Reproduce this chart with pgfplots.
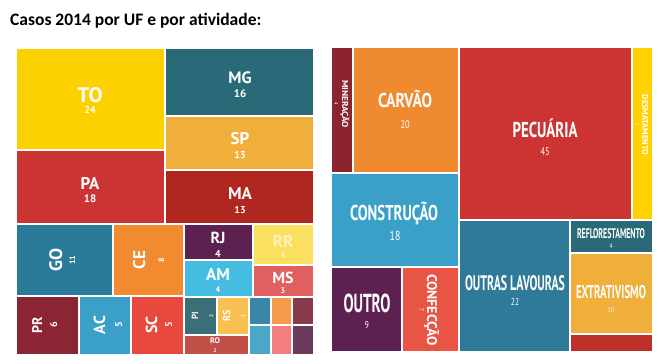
\documentclass[border=0pt]{standalone}
\usepackage{pgfplots}
\pgfplotsset{compat=1.18}
\usepackage{graphicx}
\usepackage{fontspec}
\setmainfont{PT Sans}
\newfontfamily\carlito{Carlito}
\definecolor{cTO}{HTML}{FDD000}
\definecolor{cMG}{HTML}{2A6A78}
\definecolor{cSP}{HTML}{F0AE3A}
\definecolor{cMA}{HTML}{B0271F}
\definecolor{cPA}{HTML}{CC3333}
\definecolor{cGO}{HTML}{2A7A9A}
\definecolor{cCE}{HTML}{F28A30}
\definecolor{cRJ}{HTML}{5C2150}
\definecolor{cAM}{HTML}{45BDE0}
\definecolor{cRR}{HTML}{FBE060}
\definecolor{cMS}{HTML}{E06060}
\definecolor{cPR}{HTML}{8B2433}
\definecolor{cAC}{HTML}{3AA0C8}
\definecolor{cSC}{HTML}{E8483E}
\definecolor{cPI}{HTML}{3A6F78}
\definecolor{cRS}{HTML}{F8C050}
\definecolor{cRO}{HTML}{C05048}
\definecolor{s1}{HTML}{3A86A8}
\definecolor{s2}{HTML}{4AA7C8}
\definecolor{s3}{HTML}{F59A4A}
\definecolor{s4}{HTML}{F47D7D}
\definecolor{s5}{HTML}{8A3B4A}
\definecolor{s6}{HTML}{6B3B5E}
\definecolor{cMIN}{HTML}{8B2430}
\definecolor{cCAR}{HTML}{F08A30}
\definecolor{cPEC}{HTML}{CC3333}
\definecolor{cDES}{HTML}{FFD200}
\definecolor{cCON}{HTML}{3AA0C8}
\definecolor{cOUT}{HTML}{5C2150}
\definecolor{cCNF}{HTML}{E85545}
\definecolor{cOL}{HTML}{2E7A98}
\definecolor{cREF}{HTML}{2A6A78}
\definecolor{cEXT}{HTML}{F0AE3A}
\definecolor{cBOT}{HTML}{C0302A}
\newcommand{\Rect}[5]{\addplot[fill=#5,draw=none,forget plot] coordinates {(#1,#3) (#2,#3) (#2,#4) (#1,#4)} -- cycle;}
\newcommand{\Lb}[4]{\node[anchor=base,text=white,inner sep=0pt,font=\bfseries\fontsize{#3}{#3}\selectfont] at (axis cs:#1,#2) {#4};}
\newcommand{\Lv}[5]{\node[anchor=base,rotate=#5,text=white,inner sep=0pt,font=\bfseries\fontsize{#3}{#3}\selectfont] at (axis cs:#1,#2) {#4};}
% condensed bold: x, y, size, text, width
\newcommand{\Cb}[5]{\node[anchor=base,text=white,inner sep=0pt] at (axis cs:#1,#2) {\resizebox{#5pt}{\height}{\bfseries\fontsize{#3}{#3}\selectfont #4}};}
\newcommand{\Cn}[4]{\node[anchor=base,text=white,inner sep=0pt] at (axis cs:#1,#2) {\scalebox{0.75}[1]{\fontsize{#3}{#3}\selectfont #4}};}
% rotated condensed: x, y, size, text, length
\newcommand{\Cv}[5]{\node[anchor=base,rotate=-90,text=white,inner sep=0pt] at (axis cs:#1,#2) {\resizebox{#5pt}{\height}{\bfseries\fontsize{#3}{#3}\selectfont #4}};}
\newcommand{\Cvn}[4]{\node[anchor=base,rotate=-90,text=white,inner sep=0pt] at (axis cs:#1,#2) {\scalebox{0.75}[1]{\fontsize{#3}{#3}\selectfont #4}};}
\begin{document}
\begin{tikzpicture}
\begin{axis}[width=664pt,height=364pt,scale only axis,xmin=0,xmax=664,ymin=0,ymax=364,y dir=reverse,hide axis,clip=false]
\Rect{0}{664}{0}{364}{white}
% left treemap
\Rect{17}{164}{49}{149}{cTO}
\Rect{166}{313}{49}{115}{cMG}
\Rect{166}{313}{117}{169}{cSP}
\Rect{166}{313}{171}{223}{cMA}
\Rect{17}{164}{151}{223}{cPA}
\Rect{17}{112}{225}{295}{cGO}
\Rect{114}{183}{225}{295}{cCE}
\Rect{185}{252}{225}{259}{cRJ}
\Rect{185}{252}{261}{296}{cAM}
\Rect{254}{313}{225}{264}{cRR}
\Rect{254}{313}{266}{296}{cMS}
\Rect{17}{78}{297}{354}{cPR}
\Rect{80}{130}{297}{354}{cAC}
\Rect{132}{183}{297}{354}{cSC}
\Rect{185}{216}{298}{334}{cPI}
\Rect{218}{248}{298}{334}{cRS}
\Rect{185}{248}{336}{354}{cRO}
\Rect{250}{270}{298}{324}{s1}
\Rect{250}{270}{326}{354}{s2}
\Rect{272}{291}{298}{324}{s3}
\Rect{272}{291}{326}{354}{s4}
\Rect{293}{313}{298}{324}{s5}
\Rect{293}{313}{326}{354}{s6}
% right treemap
\Rect{332}{352}{48}{172}{cMIN}
\Rect{354}{458}{48}{172}{cCAR}
\Rect{332}{458}{174}{266}{cCON}
\Rect{460}{631}{48}{219}{cPEC}
\Rect{633}{652}{48}{219}{cDES}
\Rect{332}{401}{268}{351}{cOUT}
\Rect{403}{458}{268}{351}{cCNF}
\Rect{460}{569}{221}{351}{cOL}
\Rect{571}{652}{221}{252}{cREF}
\Rect{571}{652}{254}{333}{cEXT}
\Rect{571}{652}{335}{351}{cBOT}
% title
\node[anchor=base west,inner sep=0pt,font=\carlito\bfseries\fontsize{17.5}{17.5}\selectfont] at (axis cs:10,25) {Casos 2014 por UF e por atividade:};
% left labels
\Lb{90}{102}{21}{TO} \Lb{90}{113.5}{10}{24}
\Lb{240}{83}{16.5}{MG} \Lb{240}{97}{11}{16}
\Lb{240}{144}{17}{SP} \Lb{240}{158}{10}{13}
\Lb{90}{189}{17}{PA} \Lb{90}{202}{11}{18}
\Lb{240}{199}{17}{MA} \Lb{240}{213}{10}{13}
\Lv{62}{260}{18}{GO}{90} \Lv{75}{260}{8}{11}{90}
\Lv{145}{260}{17}{CE}{90} \Lv{164}{260}{8}{8}{90}
\Lb{218}{243}{16}{RJ} \Lb{218}{257}{10}{4}
\node[anchor=base,text=white,opacity=0.6,inner sep=0pt,font=\bfseries\fontsize{17}{17}\selectfont] at (axis cs:283,247) {RR};
\node[anchor=base,text=white,opacity=0.6,inner sep=0pt,font=\bfseries\fontsize{9}{9}\selectfont] at (axis cs:283,258) {4};
\Lb{218}{280}{17}{AM} \Lb{218}{292}{8}{4}
\Lb{283}{283}{16}{MS} \Lb{283}{293}{8}{3}
\Lv{42}{325}{14}{PR}{90} \Lv{57}{325}{10}{6}{90}
\Lv{105}{325}{16}{AC}{90} \Lv{122}{325}{10}{5}{90}
\Lv{157}{325}{16}{SC}{90} \Lv{172}{325}{10}{5}{90}
\Lv{198}{316}{9}{PI}{90} \Lv{213}{316}{5}{2}{90}
\Lv{230}{316}{10}{RS}{90} \Lv{245}{316}{5}{1}{90}
\Lb{215}{343}{8}{RO} \Lb{215}{352}{5}{2}
% right labels
\Cv{342}{104}{8.5}{MINERAÇÃO}{48} \Cvn{334}{104}{6}{4}
\Cb{405}{107}{20}{CARVÃO}{54} \Cn{405}{128}{11}{20}
\Cb{545}{137}{21.5}{PECUÁRIA}{65} \Cn{545}{155}{11}{45}
\Cv{642}{125}{8.5}{DESMATAMENTO}{60} \Cvn{635}{125}{6}{5}
\Cb{394}{220}{21.5}{CONSTRUÇÃO}{88} \Cn{395}{240}{13}{18}
\Cb{367}{312}{26}{OUTRO}{47} \Cn{367}{328}{10}{9}
\Cv{427}{310}{14}{CONFECÇÃO}{72} \Cvn{419}{310}{7}{7}
\Cb{515}{290}{21}{OUTRAS LAVOURAS}{100} \Cn{515}{305}{10}{22}
\Cb{611}{238}{14}{REFLORESTAMENTO}{68} \Cn{611}{248}{7}{4}
\Cb{611}{298}{18.5}{EXTRATIVISMO}{70} \Cn{611}{312}{7}{10}
\end{axis}
\end{tikzpicture}
\end{document}
